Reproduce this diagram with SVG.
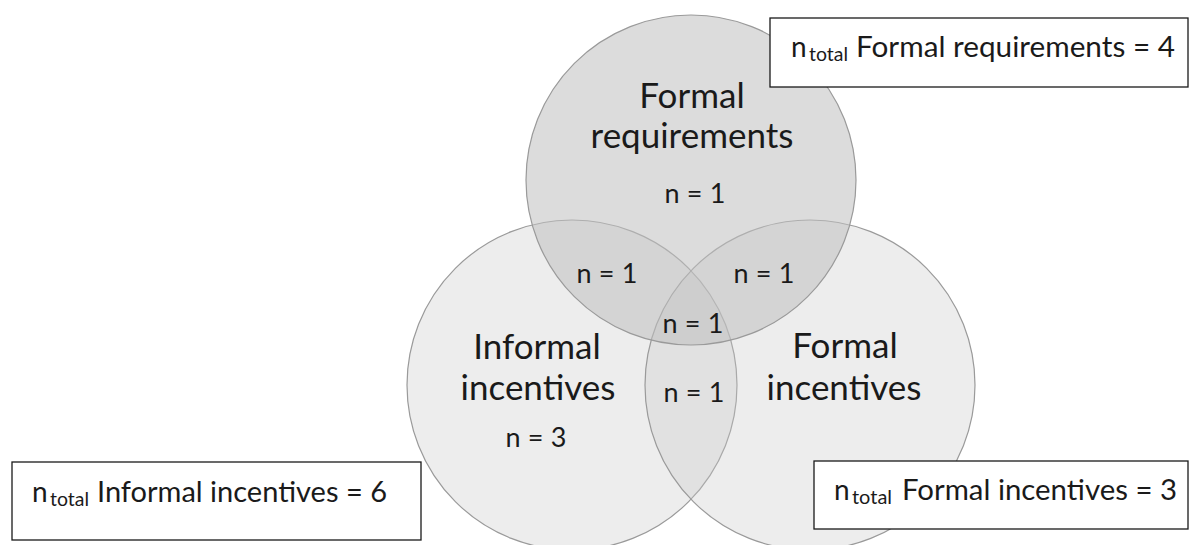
<svg xmlns="http://www.w3.org/2000/svg" width="1190" height="545" viewBox="0 0 1190 545">
<style>
.lbl{font-family:Lato,"Liberation Sans",sans-serif;font-size:35px;fill:#1a1a1a;text-anchor:middle}
.n{font-family:Lato,"Liberation Sans",sans-serif;font-size:27px;fill:#1a1a1a;text-anchor:middle}
.tot{font-family:Lato,"Liberation Sans",sans-serif;font-size:28px;fill:#1a1a1a}
.sub{font-family:Lato,"Liberation Sans",sans-serif;font-size:19px;fill:#1a1a1a}
.circ{stroke:#9a9a9a;stroke-width:1.2}
.box{fill:#fff;stroke:#1a1a1a;stroke-width:1.3}
</style>
<rect width="1190" height="545" fill="#fff"/>
<g id="circle-informal">
<circle class="circ" cx="572" cy="385" r="165" fill="#c8c8c8" fill-opacity="0.33"/>
</g>
<g id="circle-formal-incentives">
<circle class="circ" cx="810" cy="385" r="165" fill="#c8c8c8" fill-opacity="0.33"/>
</g>
<g id="circle-formal-requirements">
<circle class="circ" cx="691" cy="180" r="165" fill="#c0c0c0" fill-opacity="0.55"/>
</g>
<g id="labels">
<text class="lbl" x="692" y="108">Formal</text>
<text class="lbl" x="692" y="148">requirements</text>
<text class="n" x="695" y="203" textLength="61" lengthAdjust="spacing">n = 1</text>
<text class="n" x="607" y="283" textLength="61" lengthAdjust="spacing">n = 1</text>
<text class="n" x="764" y="283" textLength="61" lengthAdjust="spacing">n = 1</text>
<text class="n" x="693" y="333" textLength="61" lengthAdjust="spacing">n = 1</text>
<text class="n" x="694" y="402" textLength="61" lengthAdjust="spacing">n = 1</text>
<text class="lbl" x="537" y="359">Informal</text>
<text class="lbl" x="538" y="400">incentives</text>
<text class="n" x="536" y="447" textLength="61" lengthAdjust="spacing">n = 3</text>
<text class="lbl" x="845" y="358">Formal</text>
<text class="lbl" x="844" y="400">incentives</text>
</g>
<g id="box-formal-requirements">
<rect class="box" x="770" y="18" width="418" height="69"/>
<text class="tot" x="791" y="57">n</text>
<text class="sub" x="809" y="61" textLength="39" lengthAdjust="spacingAndGlyphs">total</text>
<text class="tot" x="856" y="57" textLength="319" lengthAdjust="spacingAndGlyphs">Formal requirements = 4</text>
</g>
<g id="box-informal-incentives">
<rect class="box" x="12" y="462" width="409" height="78"/>
<text class="tot" x="32" y="502">n</text>
<text class="sub" x="50" y="506" textLength="39" lengthAdjust="spacingAndGlyphs">total</text>
<text class="tot" x="97" y="502" textLength="290" lengthAdjust="spacingAndGlyphs">Informal incentives = 6</text>
</g>
<g id="box-formal-incentives">
<rect class="box" x="814" y="461" width="374" height="68"/>
<text class="tot" x="834" y="500">n</text>
<text class="sub" x="852" y="504" textLength="40" lengthAdjust="spacingAndGlyphs">total</text>
<text class="tot" x="902" y="500" textLength="275" lengthAdjust="spacingAndGlyphs">Formal incentives = 3</text>
</g>
</svg>
